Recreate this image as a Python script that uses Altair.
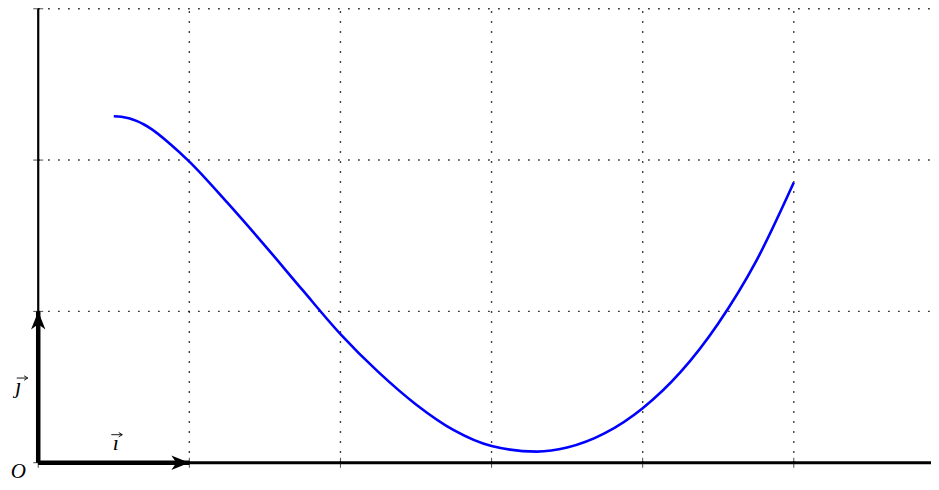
import altair as alt
import pandas as pd

# ---- data ----
curve_x = [0.5, 0.55, 0.6, 0.65, 0.7, 0.75, 0.875, 1.0, 1.25, 1.5, 1.75, 2.0, 2.25, 2.5,
           2.75, 3.0, 3.3, 3.5, 3.75, 4.0, 4.25, 4.5, 4.75, 5.0]
curve_y = [2.29, 2.2866, 2.2763, 2.259, 2.235, 2.205, 2.105, 1.99, 1.72, 1.435, 1.14, 0.85,
           0.60, 0.385, 0.215, 0.11, 0.073, 0.10, 0.195, 0.36, 0.598, 0.92, 1.33, 1.852]
grid_x = [1, 2, 3, 4, 5]
grid_y = [1, 2, 3]
tick_x = [0, 1, 2, 3, 4, 5]
tick_y = [0, 1, 2, 3]
vec_i = [1, 0]
vec_j = [0, 1]
labels = ["O", "ı", "ȷ"]

X_MIN, X_MAX = -0.2, 5.908
Y_MIN, Y_MAX = -0.1276, 3.005

xs = alt.Scale(domain=[X_MIN, X_MAX], nice=False, zero=False)
ys = alt.Scale(domain=[Y_MIN, Y_MAX], nice=False, zero=False)


def xd(v):
    return alt.XDatum(v, type="quantitative", scale=xs, axis=None)


def yd(v):
    return alt.YDatum(v, type="quantitative", scale=ys, axis=None)


def xf(f):
    return alt.X(f, type="quantitative", scale=xs, axis=None)


def yf(f):
    return alt.Y(f, type="quantitative", scale=ys, axis=None)


dots = dict(color="black", strokeWidth=1.4, strokeDash=[1.4, 8.6])

hgrid = alt.Chart(pd.DataFrame({"y": grid_y})).mark_rule(**dots).encode(
    x=xd(0), x2=alt.X2Datum(X_MAX), y=yf("y"))
vgrid = alt.Chart(pd.DataFrame({"x": grid_x})).mark_rule(**dots).encode(
    x=xf("x"), y=yd(0), y2=alt.Y2Datum(grid_y[-1]))

curve = alt.Chart(pd.DataFrame({"x": curve_x, "y": curve_y})).mark_line(
    color="#0000ff", strokeWidth=2.6, interpolate="monotone").encode(
    x=xf("x"), y=yf("y"), order="x:Q")

xticks = alt.Chart(pd.DataFrame({"x": tick_x})).mark_tick(
    orient="vertical", size=10, thickness=1, color="black").encode(x=xf("x"), y=yd(0))
yticks = alt.Chart(pd.DataFrame({"y": tick_y})).mark_tick(
    orient="horizontal", size=10, thickness=1, color="black").encode(x=xd(0), y=yf("y"))

xaxis = alt.Chart(pd.DataFrame({"a": [0]})).mark_rule(color="black", strokeWidth=3).encode(
    x=xd(0), x2=alt.X2Datum(X_MAX), y=yd(0))
yaxis = alt.Chart(pd.DataFrame({"a": [0]})).mark_rule(color="black", strokeWidth=2.2).encode(
    x=xd(0), y=yd(0), y2=alt.Y2Datum(grid_y[-1]))

vecs = pd.DataFrame({"x": [0, 0], "y": [0, 0],
                     "x2": [vec_i[0], vec_j[0]], "y2": [vec_i[1], vec_j[1]]})
vectors = alt.Chart(vecs).mark_rule(color="black", strokeWidth=4.5).encode(
    x=xf("x"), y=yf("y"), x2="x2:Q", y2="y2:Q")

head_right = "M0,0 L-1,-0.4 L-0.72,0 L-1,0.4 Z"
head_up = "M0,0 L-0.4,1 L0,0.72 L0.4,1 Z"
hi = alt.Chart(pd.DataFrame({"x": [vec_i[0]], "y": [vec_i[1]]})).mark_point(
    shape=head_right, size=1296, filled=True, color="black", opacity=1, strokeWidth=0).encode(
    x=xf("x"), y=yf("y"))
hj = alt.Chart(pd.DataFrame({"x": [vec_j[0]], "y": [vec_j[1]]})).mark_point(
    shape=head_up, size=1296, filled=True, color="black", opacity=1, strokeWidth=0).encode(
    x=xf("x"), y=yf("y"))

font = "Liberation Serif"
lab_o = alt.Chart(pd.DataFrame({"x": [0], "y": [0], "t": [labels[0]]})).mark_text(
    font=font, fontStyle="italic", fontSize=21, align="center", baseline="bottom",
    dx=-20, dy=19, color="black").encode(x=xf("x"), y=yf("y"), text="t:N")
lab_i = alt.Chart(pd.DataFrame({"x": [vec_i[0] / 2], "y": [0], "t": [labels[1]]})).mark_text(
    font=font, fontStyle="italic", fontSize=22, align="center", baseline="alphabetic",
    dx=2, dy=-13, color="black").encode(x=xf("x"), y=yf("y"), text="t:N")
lab_j = alt.Chart(pd.DataFrame({"x": [0], "y": [vec_j[1] / 2], "t": [labels[2]]})).mark_text(
    font=font, fontStyle="italic", fontSize=22, align="center", baseline="alphabetic",
    dx=-20, dy=6, color="black").encode(x=xf("x"), y=yf("y"), text="t:N")

# small vector arrows drawn as stroked symbols above the letters
vec_arrow = "M-1,0 L1,0 M0.35,-0.4 L1,0 L0.35,0.4"
arr_i = alt.Chart(pd.DataFrame({"x": [vec_i[0] / 2], "y": [0]})).mark_point(
    shape=vec_arrow, size=121, filled=False, stroke="black", strokeWidth=0.9, opacity=1,
    xOffset=3, yOffset=-28).encode(x=xf("x"), y=yf("y"))
arr_j = alt.Chart(pd.DataFrame({"x": [0], "y": [vec_j[1] / 2]})).mark_point(
    shape=vec_arrow, size=121, filled=False, stroke="black", strokeWidth=0.9, opacity=1,
    xOffset=-16, yOffset=-9).encode(x=xf("x"), y=yf("y"))

chart = alt.layer(
    hgrid, vgrid, curve, xticks, yticks, xaxis, yaxis, vectors, hi, hj,
    lab_o, lab_i, lab_j, arr_i, arr_j
).properties(
    width=923, height=474, padding=0, autosize=alt.AutoSizeParams(type="none"),
    background="white"
).configure_view(stroke=None)

chart.save("out.html", embed_options={"renderer": "svg", "actions": False})
